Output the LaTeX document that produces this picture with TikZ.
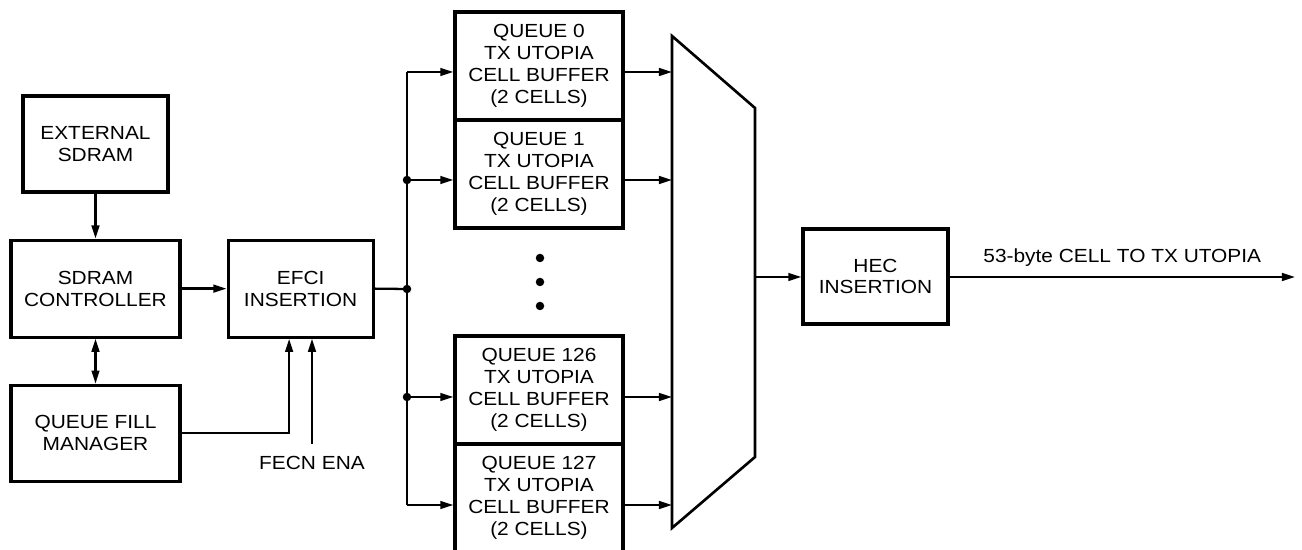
\documentclass[tikz,border=0pt]{standalone}
\usepackage{fontspec}
\setmainfont{Liberation Sans}[FakeStretch=1.1]
\usetikzlibrary{arrows.meta,positioning}

\begin{document}
\begin{tikzpicture}[x=0.02cm, y=-0.02cm,
        font=\fontsize{10.8}{12.4}\selectfont,
        node distance=0.9cm,
        block/.style={rectangle, draw, line width=1.8pt, align=center, minimum width=2.9cm, minimum height=1.92cm},
        wide/.style={block, minimum width=3.38cm, minimum height=1.94cm},
        queue/.style={block, minimum width=3.36cm, minimum height=2.16cm},
        arrow/.style={-{Triangle[length=7.5pt,width=4.4pt]}, line width=1.3pt},
        biarrow/.style={{Triangle[length=7.5pt,width=4.4pt]}-{Triangle[length=7.5pt,width=4.4pt]}, line width=1.3pt},
        wire/.style={line width=1.3pt},
        dot/.style={circle, fill, inner sep=0pt, minimum size=0.17cm}
    ]
        \useasboundingbox (0,0) rectangle (1302,550);

        % memory side
        \node[block] (ext) at (95.5,144) {EXTERNAL\\SDRAM};
        \node[wide, below=of ext]  (ctrl) {SDRAM\\CONTROLLER};
        \node[wide, below=of ctrl, minimum height=1.92cm] (qfm) {QUEUE FILL\\MANAGER};
        \node[block, minimum height=1.94cm, right=of ctrl] (efci) {EFCI\\INSERTION};
        \node (fecn) at (312,463) {FECN ENA};

        % queue buffers
        \node[queue] (q0)   at (539,66)  {QUEUE 0\\TX UTOPIA\\CELL BUFFER\\(2 CELLS)};
        \node[queue] (q1)   at (539,174) {QUEUE 1\\TX UTOPIA\\CELL BUFFER\\(2 CELLS)};
        \node[queue] (q126) at (539,390) {QUEUE 126\\TX UTOPIA\\CELL BUFFER\\(2 CELLS)};
        \node[queue] (q127) at (539,498) {QUEUE 127\\TX UTOPIA\\CELL BUFFER\\(2 CELLS)};
        \node[dot] (e1) at (540,258) {};
        \node[dot] (e2) at (540,282) {};
        \node[dot] (e3) at (540,306) {};

        % mux and HEC
        \coordinate (m1) at (672,36);
        \coordinate (m2) at (755,108);
        \coordinate (m3) at (755,457);
        \coordinate (m4) at (672,528);
        \draw[line width=1.5pt] (m1) -- (m2) -- (m3) -- (m4) -- cycle;
        \node[block, minimum height=1.9cm] (hec) at (875.5,276.5) {HEC\\INSERTION};

        % distribution bus
        \coordinate (t0) at (407,72);
        \coordinate (t1) at (407,180);
        \coordinate (t2) at (407,289);
        \coordinate (t3) at (407,397);
        \coordinate (t4) at (407,505);
        \draw[wire] (t0) -- (t4);
        \node[dot] (d1) at (t1) {};
        \node[dot] (d2) at (t2) {};
        \node[dot] (d3) at (t3) {};

        \draw[arrow]   (ext)  -- (ctrl);
        \draw[biarrow] (ctrl) -- (qfm);
        \draw[arrow]   (ctrl) -- (efci);
        \draw[arrow]   (qfm.east) -| ([xshift=-0.23cm]efci.south);
        \coordinate (fen) at (312,444);
        \draw[arrow]   (fen) -- (fen |- efci.south);
        \draw[wire]    (efci.east) -- (t2);

        \draw[arrow] (t0) -- (t0 -| q0.west);
        \draw[arrow] (t1) -- (t1 -| q1.west);
        \draw[arrow] (t3) -- (t3 -| q126.west);
        \draw[arrow] (t4) -- (t4 -| q127.west);
        \draw[arrow] (t0 -| q0.east)   -- (t0 -| m1);
        \draw[arrow] (t1 -| q1.east)   -- (t1 -| m1);
        \draw[arrow] (t3 -| q126.east) -- (t3 -| m1);
        \draw[arrow] (t4 -| q127.east) -- (t4 -| m1);

        \coordinate (mo)  at (755,277);
        \coordinate (out) at (1295,277);
        \draw[arrow] (mo) -- (mo -| hec.west);
        \draw[arrow] (mo -| hec.east) -- node[above, yshift=0.08cm] (lbl) {53-byte CELL TO TX UTOPIA} (out);
    \end{tikzpicture}
\end{document}
